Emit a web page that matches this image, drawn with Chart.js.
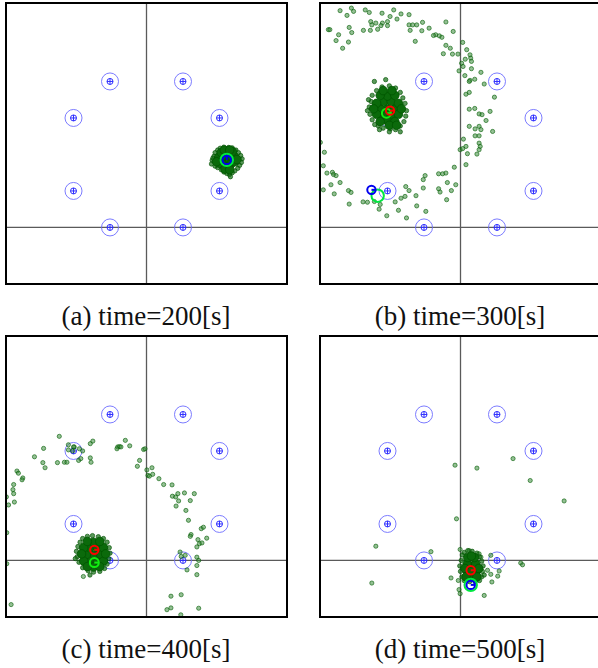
<!DOCTYPE html>
<html><head><meta charset="utf-8">
<script src="https://cdn.jsdelivr.net/npm/chart.js@4.4.1/dist/chart.umd.min.js"></script>
<style>
html,body{margin:0;padding:0;background:#fff;width:598px;height:668px;overflow:hidden;position:relative}
canvas{position:absolute}
.cap{position:absolute;width:300px;text-align:center;font-family:"Liberation Serif","Times New Roman",serif;font-size:27px;line-height:27px;color:#111;white-space:nowrap}
</style></head><body>
<script>
// ---------- axis ranges & landmarks ----------
const X_RANGE = [-3.85, 3.85];
const Y_RANGE = [-1.55, 6.15];
const LANDMARK_X = [-1, 1, -2, 2, -2, 2, -1, 1];
const LANDMARK_Y = [4, 4, 3, 3, 1, 1, 0, 0];
const CAPTIONS = ['(a) time=200[s]', '(b) time=300[s]', '(c) time=400[s]', '(d) time=500[s]'];

// ---------- panel (a) time=200 ----------
const A_CORE = [[2.20,1.85],[2.05,1.85],[2.35,1.85],[2.10,1.98],[2.30,1.98],[2.20,2.05],[2.10,1.72],[2.30,1.72],[2.20,1.65],[1.98,1.92],[2.42,1.80],[2.00,1.76],[2.40,1.95],[2.15,1.60],[2.28,1.58],[2.05,2.05],[2.35,2.08],[1.92,1.80],[2.48,1.86],[2.13,2.12],[2.28,2.12]];
const A_FRINGE = [[1.80,1.84],[1.78,1.74],[1.85,1.95],[1.88,2.05],[1.95,2.12],[2.02,2.17],[2.12,2.20],[2.25,2.19],[2.35,2.18],[2.45,2.12],[2.52,2.05],[2.58,1.97],[2.62,1.88],[2.60,1.78],[2.55,1.70],[2.50,1.62],[2.42,1.55],[2.35,1.50],[2.27,1.45],[2.20,1.48],[2.12,1.52],[2.05,1.58],[1.95,1.64],[1.88,1.68],[2.30,1.39],[1.82,1.90]];
const A_SCATTER = [];
const A_RED = [];
const A_RED_HEADING = [];
const A_BLUE = [[2.20,1.85]];
const A_BLUE_HEADING = [90];
const A_LIME = [];
const A_LIME_HEADING = [];
const A_RING = [[2.20,1.85]];

// ---------- panel (b) time=300 ----------
const B_CORE = [[-2.0,3.25],[-2.2,3.25],[-1.8,3.25],[-2.1,3.45],[-1.9,3.45],[-2.1,3.05],[-1.9,3.05],[-2.3,3.40],[-1.7,3.40],[-2.3,3.10],[-1.7,3.10],[-2.0,3.60],[-2.0,2.92],[-2.2,3.62],[-1.8,3.62],[-2.2,2.90],[-1.8,2.90],[-2.38,3.25],[-1.62,3.25],[-2.12,3.75],[-1.88,3.75],[-1.95,2.80],[-1.75,2.80]];
const B_FRINGE = [[-2.45,3.45],[-2.50,3.30],[-2.48,3.10],[-2.42,2.95],[-2.35,2.82],[-2.25,2.78],[-2.12,2.72],[-1.92,2.70],[-1.78,2.68],[-1.65,2.78],[-1.55,2.90],[-1.50,3.05],[-1.48,3.20],[-1.52,3.40],[-1.58,3.55],[-1.65,3.70],[-1.78,3.82],[-1.95,3.88],[-2.15,3.85],[-2.30,3.75],[-2.42,3.62],[-2.52,3.50],[-2.05,4.05],[-2.55,3.20],[-1.95,2.62],[-1.65,2.62],[-2.22,2.68],[-2.36,4.00]];
const B_SCATTER = [[-3.30,5.94],[-3.11,5.81],[-2.99,6.01],[-2.93,5.92],[-2.61,5.96],[-2.50,5.89],[-2.15,5.87],[-1.83,5.96],[-1.63,5.85],[-1.41,5.83],[-1.93,5.78],[-2.14,5.60],[-2.32,5.60],[-2.46,5.64],[-2.43,5.55],[-2.00,5.64],[-1.74,5.71],[-2.00,5.53],[-2.18,5.53],[-2.27,5.43],[-2.47,5.40],[-2.66,5.40],[-2.98,5.34],[-3.05,5.48],[-3.34,5.28],[-3.41,5.12],[-3.62,5.42],[-3.58,5.42],[-3.07,5.08],[-3.23,4.91],[-1.41,5.55],[-1.31,5.55],[-1.20,5.55],[-1.04,5.62],[-1.06,5.39],[-1.38,5.40],[-0.86,5.46],[-0.40,5.63],[-0.20,5.37],[-0.68,5.28],[-0.58,5.25],[-0.51,5.21],[-0.74,5.26],[-1.24,5.10],[-0.40,4.99],[-0.28,4.91],[-0.47,4.76],[-0.22,4.75],[-0.07,4.75],[0.06,5.07],[0.17,4.87],[0.26,4.73],[0.28,4.64],[0.30,4.55],[0.13,4.61],[0.03,4.50],[0.07,4.41],[0.30,4.35],[-0.04,4.29],[0.56,4.25],[0.12,4.16],[0.26,4.03],[0.39,4.06],[0.24,4.00],[0.65,3.93],[0.93,3.57],[0.15,3.65],[0.24,3.70],[0.24,3.24],[0.39,3.26],[0.51,3.11],[0.70,2.93],[0.81,3.18],[0.59,3.09],[0.24,2.77],[0.51,2.77],[0.40,2.70],[0.40,2.51],[0.51,2.51],[0.56,2.68],[0.88,2.63],[0.08,2.42],[0.15,2.22],[0.19,2.02],[-0.01,2.13],[0.06,2.16],[0.51,2.31],[0.54,2.22],[0.51,2.13],[0.45,2.01],[-3.84,2.33],[-3.73,2.06],[-3.76,1.69],[-3.66,1.49],[-3.51,1.51],[-3.48,1.45],[-3.41,1.42],[-3.55,1.17],[-3.30,1.23],[-3.76,1.03],[-3.07,1.01],[-3.00,0.96],[-3.05,0.64],[-3.46,0.92],[-2.67,0.70],[-2.55,0.69],[-2.36,0.71],[-2.23,0.50],[-2.20,0.63],[-2.02,0.32],[-1.79,0.70],[-1.70,0.47],[-1.52,0.85],[-1.63,0.80],[-1.50,1.12],[-1.41,1.01],[-1.48,0.26],[-1.22,0.87],[-1.20,0.59],[-1.02,1.08],[-1.02,1.31],[-0.97,1.42],[-0.95,0.44],[-0.60,1.47],[-0.49,1.47],[-0.40,1.49],[-0.60,1.06],[-0.56,0.97],[-0.36,1.23],[-0.13,1.17],[-0.25,1.01],[-0.38,0.76],[-0.17,1.65],[0.15,1.72]];
const B_RED = [[-1.93,3.20]];
const B_RED_HEADING = [0];
const B_BLUE = [[-2.44,1.03]];
const B_BLUE_HEADING = [0];
const B_LIME = [[-2.03,3.13]];
const B_LIME_HEADING = [0];
const B_RING = [[-2.27,0.87]];

// ---------- panel (c) time=400 ----------
const C_CORE = [[-1.45,0.15],[-1.65,0.15],[-1.25,0.15],[-1.55,0.35],[-1.35,0.35],[-1.55,-0.05],[-1.35,-0.05],[-1.45,0.50],[-1.45,-0.18],[-1.72,0.35],[-1.18,0.35],[-1.72,-0.02],[-1.18,-0.02],[-1.62,0.52],[-1.28,0.52],[-1.62,-0.17],[-1.28,-0.17],[-1.78,0.18],[-1.12,0.18]];
const C_FRINGE = [[-1.92,0.25],[-1.90,0.10],[-1.88,0.38],[-1.82,0.50],[-1.75,0.60],[-1.62,0.66],[-1.48,0.68],[-1.32,0.65],[-1.18,0.60],[-1.08,0.50],[-1.02,0.35],[-1.00,0.20],[-1.03,0.05],[-1.08,-0.10],[-1.15,-0.22],[-1.28,-0.30],[-1.45,-0.32],[-1.60,-0.28],[-1.75,-0.20],[-1.85,-0.05],[-1.95,0.05],[-1.55,-0.40]];
const C_SCATTER = [[-2.39,3.40],[-2.82,3.07],[-3.07,2.84],[-2.84,2.68],[-2.78,2.54],[-2.44,2.68],[-2.25,2.69],[-2.18,2.69],[-2.14,3.17],[-2.14,3.03],[-1.98,3.11],[-1.84,3.06],[-1.75,3.00],[-1.86,2.74],[-1.80,2.79],[-1.54,2.81],[-1.52,2.69],[-1.54,3.20],[-1.47,3.27],[-0.79,3.11],[-0.74,3.12],[-0.70,3.11],[-0.58,3.29],[-0.46,3.14],[-0.81,3.06],[-0.25,2.58],[-0.19,2.74],[-0.08,3.04],[-0.04,3.06],[0.01,2.48],[0.04,2.33],[0.08,2.31],[0.17,2.36],[0.15,2.54],[0.34,2.24],[0.47,2.08],[0.70,2.07],[0.71,1.76],[0.80,1.74],[0.86,1.83],[0.88,1.63],[0.81,1.49],[1.04,1.85],[1.20,1.64],[1.31,1.83],[1.08,1.37],[1.15,1.10],[1.22,0.71],[1.20,0.66],[1.41,0.57],[1.50,0.87],[1.56,0.91],[1.65,0.61],[1.45,0.46],[1.38,0.37],[1.52,0.48],[0.92,0.23],[0.95,0.11],[1.06,0.14],[1.11,-0.26],[1.38,0.09],[1.43,0.00],[1.38,-0.14],[1.38,-0.39],[0.67,-0.98],[0.95,-0.94],[0.56,-1.35],[0.67,-1.30],[0.94,-1.49],[1.43,-1.31],[-3.55,2.45],[-3.51,2.39],[-3.39,2.26],[-3.41,2.21],[-3.64,2.08],[-3.66,1.94],[-3.64,1.83],[-3.62,1.60],[-3.78,1.52],[-3.84,1.74],[-3.83,0.76],[-3.83,-0.09],[-3.71,-1.21],[-1.73,-0.44],[-2.00,3.11],[-2.02,3.00]];
const C_RED = [[-1.43,0.29]];
const C_RED_HEADING = [0];
const C_BLUE = [];
const C_BLUE_HEADING = [];
const C_LIME = [[-1.43,-0.06]];
const C_LIME_HEADING = [0];
const C_RING = [];

// ---------- panel (d) time=500 ----------
const D_CORE = [[0.30,-0.15],[0.18,-0.10],[0.42,-0.10],[0.20,0.08],[0.38,0.08],[0.20,-0.32],[0.42,-0.32],[0.30,-0.45],[0.30,0.12],[0.12,-0.22],[0.50,-0.22],[0.30,-0.30],[0.15,-0.45],[0.45,-0.45]];
const D_FRINGE = [[0.02,0.00],[0.05,0.15],[0.10,0.22],[0.20,0.27],[0.32,0.25],[0.45,0.20],[0.52,0.10],[0.58,-0.02],[0.62,-0.15],[0.60,-0.30],[0.58,-0.45],[0.52,-0.55],[0.40,-0.58],[0.25,-0.58],[0.10,-0.55],[0.04,-0.45],[0.00,-0.30],[-0.02,-0.15],[0.65,-0.40]];
const D_SCATTER = [[-0.15,2.61],[0.45,2.53],[1.44,2.79],[1.91,2.19],[2.84,1.63],[-0.11,1.14],[-2.32,0.39],[-0.81,0.24],[-2.43,-0.62],[-0.01,0.30],[-0.26,-0.48],[-0.06,-0.55],[-0.04,-0.80],[-0.01,-0.91],[0.65,-0.96],[0.83,0.14],[0.74,-0.27],[0.83,-0.38],[0.86,-0.59],[1.02,-0.43],[1.06,-0.29],[1.65,-0.07],[1.70,-0.12],[0.51,0.18],[0.56,0.09],[0.24,0.27]];
const D_RED = [[0.28,-0.27]];
const D_RED_HEADING = [0];
const D_BLUE = [[0.28,-0.67]];
const D_BLUE_HEADING = [0];
const D_LIME = [];
const D_LIME_HEADING = [];
const D_RING = [[0.28,-0.67]];

// ---------- rendering ----------
const PANELS = [
  {left:6,  top:3,   cap:CAPTIONS[0], core:A_CORE, fringe:A_FRINGE, scatter:A_SCATTER, red:A_RED, redH:A_RED_HEADING, blue:A_BLUE, blueH:A_BLUE_HEADING, lime:A_LIME, limeH:A_LIME_HEADING, ring:A_RING},
  {left:320,top:3,   cap:CAPTIONS[1], core:B_CORE, fringe:B_FRINGE, scatter:B_SCATTER, red:B_RED, redH:B_RED_HEADING, blue:B_BLUE, blueH:B_BLUE_HEADING, lime:B_LIME, limeH:B_LIME_HEADING, ring:B_RING},
  {left:6,  top:336, cap:CAPTIONS[2], core:C_CORE, fringe:C_FRINGE, scatter:C_SCATTER, red:C_RED, redH:C_RED_HEADING, blue:C_BLUE, blueH:C_BLUE_HEADING, lime:C_LIME, limeH:C_LIME_HEADING, ring:C_RING},
  {left:320,top:336, cap:CAPTIONS[3], core:D_CORE, fringe:D_FRINGE, scatter:D_SCATTER, red:D_RED, redH:D_RED_HEADING, blue:D_BLUE, blueH:D_BLUE_HEADING, lime:D_LIME, limeH:D_LIME_HEADING, ring:D_RING}
];
const SIZE = 281, PAD = 3;
const pts = arr => arr.map(([x, y]) => ({x, y}));
const landmarks = LANDMARK_X.map((x, i) => ({x, y: LANDMARK_Y[i]}));

const framePlugin = {
  id: 'frame',
  beforeDatasetsDraw(chart) {
    const {ctx, chartArea: a, scales: {x, y}} = chart;
    const px = x.getPixelForValue(0), py = y.getPixelForValue(0);
    ctx.save();
    ctx.strokeStyle = '#5a5a5a';
    ctx.lineWidth = 1.3;
    ctx.beginPath();
    ctx.moveTo(px, a.top); ctx.lineTo(px, a.bottom);
    ctx.moveTo(a.left, py); ctx.lineTo(a.right, py);
    ctx.stroke();
    ctx.restore();
  },
  afterDraw(chart) {
    const {ctx, chartArea: a} = chart;
    ctx.save();
    ctx.strokeStyle = '#000';
    ctx.lineWidth = 2;
    ctx.strokeRect(a.left, a.top, a.right - a.left, a.bottom - a.top);
    ctx.restore();
  }
};

function ringSet(data, color, r, w) {
  return {data: pts(data), pointStyle: 'circle', pointRadius: r, pointBorderWidth: w,
    pointBorderColor: color, pointBackgroundColor: 'rgba(0,0,0,0)', showLine: false};
}
function dashSet(data, headings, color, r, w) {
  return {data: pts(data), pointStyle: 'dash', pointRadius: r, pointBorderWidth: w,
    pointBorderColor: color, pointRotation: headings.map(h => -h), showLine: false};
}

PANELS.forEach(p => {
  const cv = document.createElement('canvas');
  cv.width = SIZE + 2 * PAD; cv.height = SIZE + 2 * PAD;
  cv.style.left = (p.left - PAD) + 'px';
  cv.style.top = (p.top - PAD) + 'px';
  document.body.appendChild(cv);

  const cap = document.createElement('div');
  cap.className = 'cap';
  cap.textContent = p.cap;
  cap.style.left = (p.left + 140 - 150) + 'px';
  cap.style.top = (p.top + 300) + 'px';
  document.body.appendChild(cap);

  const datasets = [
    ringSet(p.red, '#ff0000', 4.2, 2),
    dashSet(p.red, p.redH, '#ff0000', 4.2, 2),
    ringSet(p.blue, '#0000ee', 4.2, 2),
    dashSet(p.blue, p.blueH, '#0000ee', 4.2, 2),
    ringSet(p.lime, '#11ee11', 4.5, 2),
    dashSet(p.lime, p.limeH, '#11ee11', 4.5, 2),
    ringSet(p.ring, '#00e840', 6.2, 2),
    {data: pts(p.core), pointStyle: 'circle', pointRadius: 4.3, pointBorderWidth: 0.8,
      pointBackgroundColor: '#0b6a0b', pointBorderColor: '#005500', showLine: false},
    {data: pts(p.fringe), pointStyle: 'circle', pointRadius: 2.2, pointBorderWidth: 0.8,
      pointBackgroundColor: 'rgba(20,110,20,0.7)', pointBorderColor: 'rgba(0,80,0,0.8)', showLine: false},
    {data: pts(p.scatter), pointStyle: 'circle', pointRadius: 2.1, pointBorderWidth: 0.8,
      pointBackgroundColor: 'rgba(60,140,60,0.55)', pointBorderColor: 'rgba(0,90,0,0.75)', showLine: false},
    {data: landmarks, pointStyle: 'circle', pointRadius: 8.5, pointBorderWidth: 1,
      pointBorderColor: 'rgba(110,110,255,0.9)', pointBackgroundColor: 'rgba(0,0,0,0)', showLine: false},
    {data: landmarks, pointStyle: 'circle', pointRadius: 3, pointBorderWidth: 1,
      pointBorderColor: '#2f2fff', pointBackgroundColor: 'rgba(0,0,0,0)', showLine: false},
    {data: landmarks, pointStyle: 'cross', pointRadius: 3, pointBorderWidth: 1,
      pointBorderColor: '#2f2fff', showLine: false}
  ];
  datasets.forEach((d, i) => { d.order = i; });

  new Chart(cv, {
    type: 'scatter',
    data: {datasets},
    options: {
      responsive: false, animation: false, devicePixelRatio: 1, events: [],
      layout: {padding: PAD, autoPadding: false},
      plugins: {legend: {display: false}, tooltip: {enabled: false}},
      scales: {
        x: {type: 'linear', min: X_RANGE[0], max: X_RANGE[1], display: false},
        y: {type: 'linear', min: Y_RANGE[0], max: Y_RANGE[1], display: false}
      }
    },
    plugins: [framePlugin]
  });
});
</script>
</body></html>
